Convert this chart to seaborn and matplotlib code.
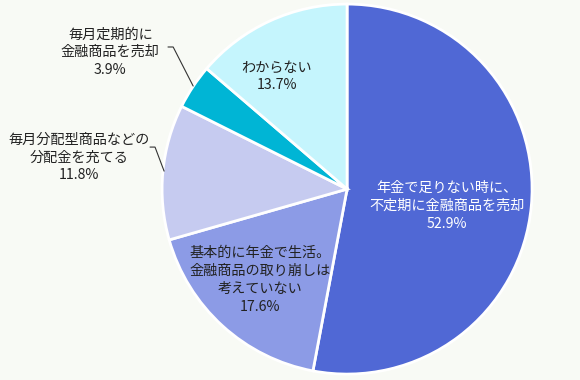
import matplotlib
matplotlib.use('Agg')
import matplotlib.pyplot as plt
import seaborn as sns

# data
labels = ['年金で足りない時に、\n不定期に金融商品を売却',
          '基本的に年金で生活。\n金融商品の取り崩しは\n考えていない',
          '毎月分配型商品などの\n分配金を充てる',
          '毎月定期的に\n金融商品を売却',
          'わからない']
values = [52.9, 17.6, 11.8, 3.9, 13.7]
colors = ['#5068d5', '#8c9be6', '#c6cbf0', '#00b5d5', '#c5f5fd']
text_colors = ['white', '#222222', '#222222', '#222222', '#222222']

sns.set_theme(style='white')
plt.rcParams['font.family'] = ['Noto Sans CJK JP', 'DejaVu Sans']

bg = '#f8faf5'
fig = plt.figure(figsize=(5.8, 3.8), dpi=100, facecolor=bg)
ax = fig.add_axes([0, 0, 1, 1])
ax.set_facecolor(bg)

ax.pie(values, colors=colors, startangle=90, counterclock=False,
       radius=1.0, wedgeprops=dict(edgecolor='white', linewidth=2))

ax.set_xlim(-1.876, 1.259)
ax.set_ylim(-1.032, 1.022)
ax.set_aspect('auto')
ax.axis('off')

# label positions (pie radius = 1)
pos = [(0.54, -0.09), (-0.47, -0.49), (-1.45, 0.17), (-1.28, 0.74), (-0.38, 0.61)]
for lab, v, (x, y), tc in zip(labels, values, pos, text_colors):
    ax.text(x, y, f'{lab}\n{v}%', ha='center', va='center', fontsize=10.2,
            color=tc, linespacing=1.35)

# leader lines for the outside labels
ax.plot([-0.968, -0.94, -0.832], [0.768, 0.768, 0.557], color='#333333', lw=0.8)
ax.plot([-1.065, -1.038, -0.989], [0.227, 0.227, 0.097], color='#333333', lw=0.8)

fig.savefig('out.png', dpi=100, facecolor=bg)
